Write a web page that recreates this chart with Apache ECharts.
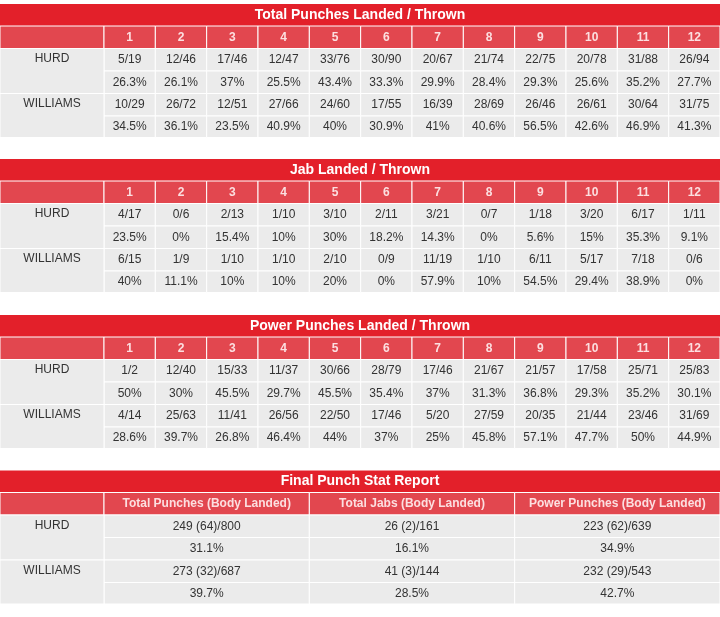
<!DOCTYPE html>
<html><head><meta charset="utf-8">
<script src="https://cdn.jsdelivr.net/npm/echarts@6/dist/echarts.min.js"></script>
<style>html,body{margin:0;padding:0;background:#fff}#c{width:720px;height:617px}</style>
</head><body><div id="c"></div>
<script>
const fighters = ["HURD", "WILLIAMS"];
const rounds = ["1","2","3","4","5","6","7","8","9","10","11","12"];
const totalTitle = "Total Punches Landed / Thrown";
const totalHurd = ["5/19","12/46","17/46","12/47","33/76","30/90","20/67","21/74","22/75","20/78","31/88","26/94"];
const totalHurdPct = ["26.3%","26.1%","37%","25.5%","43.4%","33.3%","29.9%","28.4%","29.3%","25.6%","35.2%","27.7%"];
const totalWill = ["10/29","26/72","12/51","27/66","24/60","17/55","16/39","28/69","26/46","26/61","30/64","31/75"];
const totalWillPct = ["34.5%","36.1%","23.5%","40.9%","40%","30.9%","41%","40.6%","56.5%","42.6%","46.9%","41.3%"];
const jabTitle = "Jab Landed / Thrown";
const jabHurd = ["4/17","0/6","2/13","1/10","3/10","2/11","3/21","0/7","1/18","3/20","6/17","1/11"];
const jabHurdPct = ["23.5%","0%","15.4%","10%","30%","18.2%","14.3%","0%","5.6%","15%","35.3%","9.1%"];
const jabWill = ["6/15","1/9","1/10","1/10","2/10","0/9","11/19","1/10","6/11","5/17","7/18","0/6"];
const jabWillPct = ["40%","11.1%","10%","10%","20%","0%","57.9%","10%","54.5%","29.4%","38.9%","0%"];
const powerTitle = "Power Punches Landed / Thrown";
const powerHurd = ["1/2","12/40","15/33","11/37","30/66","28/79","17/46","21/67","21/57","17/58","25/71","25/83"];
const powerHurdPct = ["50%","30%","45.5%","29.7%","45.5%","35.4%","37%","31.3%","36.8%","29.3%","35.2%","30.1%"];
const powerWill = ["4/14","25/63","11/41","26/56","22/50","17/46","5/20","27/59","20/35","21/44","23/46","31/69"];
const powerWillPct = ["28.6%","39.7%","26.8%","46.4%","44%","37%","25%","45.8%","57.1%","47.7%","50%","44.9%"];
const finalTitle = "Final Punch Stat Report";
const finalHeaders = ["Total Punches (Body Landed)","Total Jabs (Body Landed)","Power Punches (Body Landed)"];
const finalHurd = ["249 (64)/800","26 (2)/161","223 (62)/639"];
const finalHurdPct = ["31.1%","16.1%","34.9%"];
const finalWill = ["273 (32)/687","41 (3)/144","232 (29)/543"];
const finalWillPct = ["39.7%","28.5%","42.7%"];

const cells = [];
function table(top, title, headers, rows){
  const L = 104, R = 720, n = headers.length, w = (R - L) / n;
  const rh = [22, 22.5, 22.5, 22.5, 22.5, 21.5];
  let y = top;
  cells.push([0, y, 720, y + rh[0], title, 'title']); y += rh[0];
  cells.push([0, y, L, y + rh[1], '', 'head']);
  headers.forEach((h, i) => cells.push([L + i * w, y, L + (i + 1) * w, y + rh[1], h, 'head']));
  y += rh[1];
  for (let f = 0; f < 2; f++) {
    const y0 = y;
    for (let k = 0; k < 2; k++) {
      rows[f * 2 + k].forEach((t, i) => cells.push([L + i * w, y, L + (i + 1) * w, y + rh[2 + f * 2 + k], t, 'cell']));
      y += rh[2 + f * 2 + k];
    }
    cells.push([0, y0, L, y, fighters[f], 'label']);
  }
}
table(4, totalTitle, rounds, [totalHurd, totalHurdPct, totalWill, totalWillPct]);
table(159, jabTitle, rounds, [jabHurd, jabHurdPct, jabWill, jabWillPct]);
table(315, powerTitle, rounds, [powerHurd, powerHurdPct, powerWill, powerWillPct]);
table(470.5, finalTitle, finalHeaders, [finalHurd, finalHurdPct, finalWill, finalWillPct]);

const chart = echarts.init(document.getElementById('c'));
chart.setOption({
  animation: false,
  grid: {left: 0, right: 0, top: 0, bottom: 0},
  xAxis: {type: 'value', min: 0, max: 720, show: false},
  yAxis: {type: 'value', min: 0, max: 617, inverse: true, show: false},
  series: [{
    type: 'custom',
    data: cells,
    encode: {x: [0, 2], y: [1, 3]},
    renderItem: function (params, api) {
      const c = cells[params.dataIndex];
      const p0 = api.coord([c[0], c[1]]), p1 = api.coord([c[2], c[3]]);
      const kind = c[5];
      let fill = '#ebebeb', color = '#333', weight = 'normal', size = 12, sw = 1;
      let tc = {position: 'inside'};
      if (kind === 'title') { fill = '#e3202a'; color = '#fff'; weight = 'bold'; size = 14; sw = 0; }
      if (kind === 'head') { fill = '#e2474f'; color = '#fcdfe0'; weight = 'bold'; size = 12; }
      if (kind === 'label') { tc = {position: 'insideTop', distance: 5}; }
      return {
        type: 'rect',
        shape: {x: p0[0], y: p0[1], width: p1[0] - p0[0], height: p1[1] - p0[1]},
        style: {fill: fill, stroke: '#fff', lineWidth: sw},
        textContent: {style: {text: c[4], fill: color, fontSize: size, fontWeight: weight, fontFamily: 'Liberation Sans, Arial, sans-serif'}},
        textConfig: tc
      };
    }
  }]
});
</script></body></html>
